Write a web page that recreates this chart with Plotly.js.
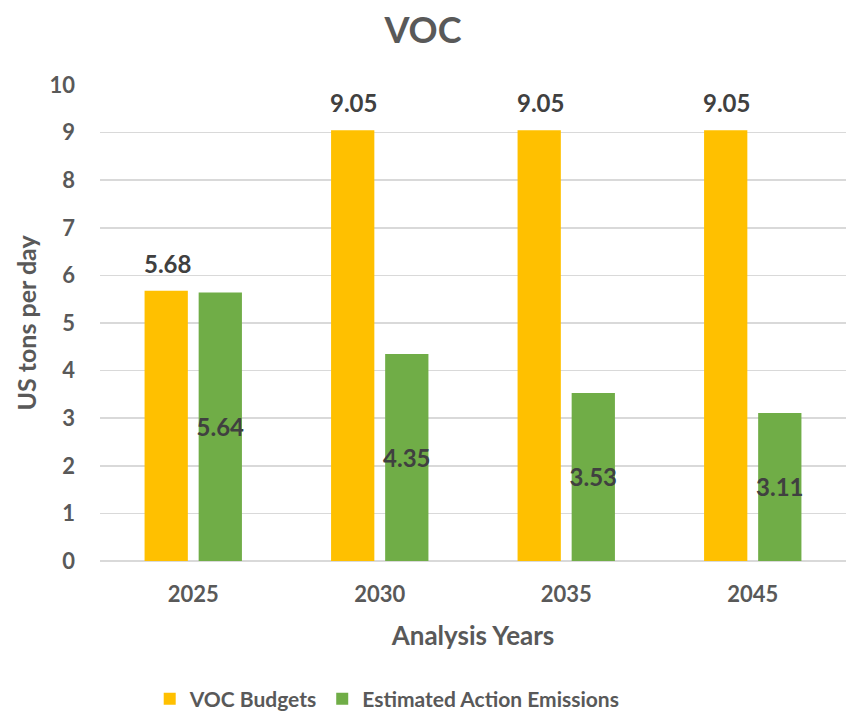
<!DOCTYPE html>
<html>
<head>
<meta charset="utf-8">
<script src="https://cdn.plot.ly/plotly-3.0.1.min.js"></script>
<style>
  html, body { margin: 0; padding: 0; background: #fff; }
  #chart { width: 846px; height: 716px; }
</style>
</head>
<body>
<div id="chart"></div>
<script>
// VOC budgets vs estimated action emissions
const years = ['2025', '2030', '2035', '2045'];
const budgets = [5.68, 9.05, 9.05, 9.05];
const emissions = [5.64, 4.35, 3.53, 3.11];
const yTicks = [0, 1, 2, 3, 4, 5, 6, 7, 8, 9, 10];

const FONT = 'Lato, "Open Sans", sans-serif';
const GREY = '#595959';
const LABEL = '#404040';

const traceBudget = {
  x: years,
  y: budgets,
  name: 'VOC Budgets',
  type: 'bar',
  marker: { color: '#ffc000' },
  hoverinfo: 'x+y'
};

const traceEmis = {
  x: years,
  y: emissions,
  name: 'Estimated Action Emissions',
  type: 'bar',
  marker: { color: '#70ad47' },
  text: emissions.map(v => v.toFixed(2)),
  textposition: 'inside',
  insidetextanchor: 'middle',
  constraintext: 'none',
  textangle: 0,
  insidetextfont: { family: FONT, size: 24, color: LABEL, weight: 'bold' },
  hoverinfo: 'x+y'
};

// budget labels sit well above the yellow bars, so they go in as annotations
// (x is the category index on the category axis)
const budgetLabels = years.map((yr, i) => ({
  x: i,
  y: budgets[i],
  xref: 'x',
  yref: 'y',
  text: '<b>' + budgets[i].toFixed(2) + '</b>',
  showarrow: false,
  xanchor: 'center',
  yanchor: 'bottom',
  xshift: -26,
  yshift: 11,
  font: { family: FONT, size: 24, color: LABEL }
}));

Plotly.newPlot('chart', [traceBudget, traceEmis], {
  width: 846,
  height: 716,
  barmode: 'group',
  bargap: 0.42,
  bargroupgap: 0.2,
  title: {
    text: '<b>VOC</b>',
    font: { family: FONT, size: 36, color: GREY },
    x: 0.5, xanchor: 'center', y: 0.958, yanchor: 'middle'
  },
  font: { family: FONT, color: GREY },
  paper_bgcolor: '#fff',
  plot_bgcolor: '#fff',
  margin: { t: 85, l: 100, r: 0, b: 155, autoexpand: false },
  annotations: budgetLabels,
  xaxis: {
    type: 'category',
    categoryarray: years,
    range: [-0.5, years.length - 0.5],
    automargin: false,
    title: { text: '<b>Analysis Years</b>', font: { family: FONT, size: 26, color: GREY }, standoff: 20 },
    tickfont: { family: FONT, size: 22, color: GREY, weight: 'bold' },
    ticks: '',
    ticklabelstandoff: 18,
    showline: false,
    showgrid: false
  },
  yaxis: {
    title: { text: '<b>US tons per day</b>', font: { family: FONT, size: 25, color: GREY }, standoff: 5 },
    range: [0, 10],
    tickvals: yTicks,
    automargin: false,
    tickfont: { family: FONT, size: 22, color: GREY, weight: 'bold' },
    ticks: '',
    ticklabelstandoff: 24,
    showgrid: true,
    gridcolor: '#d9d9d9',
    gridwidth: 1.5,
    zeroline: true,
    zerolinecolor: '#d9d9d9',
    zerolinewidth: 2
  },
  showlegend: true,
  legend: {
    orientation: 'h',
    x: 0.385, xanchor: 'center',
    y: -0.29, yanchor: 'middle',
    font: { family: FONT, size: 21, color: GREY, weight: 'bold' },
    itemsizing: 'constant',
    traceorder: 'normal'
  }
}, { displayModeBar: false, staticPlot: true });
</script>
</body>
</html>
